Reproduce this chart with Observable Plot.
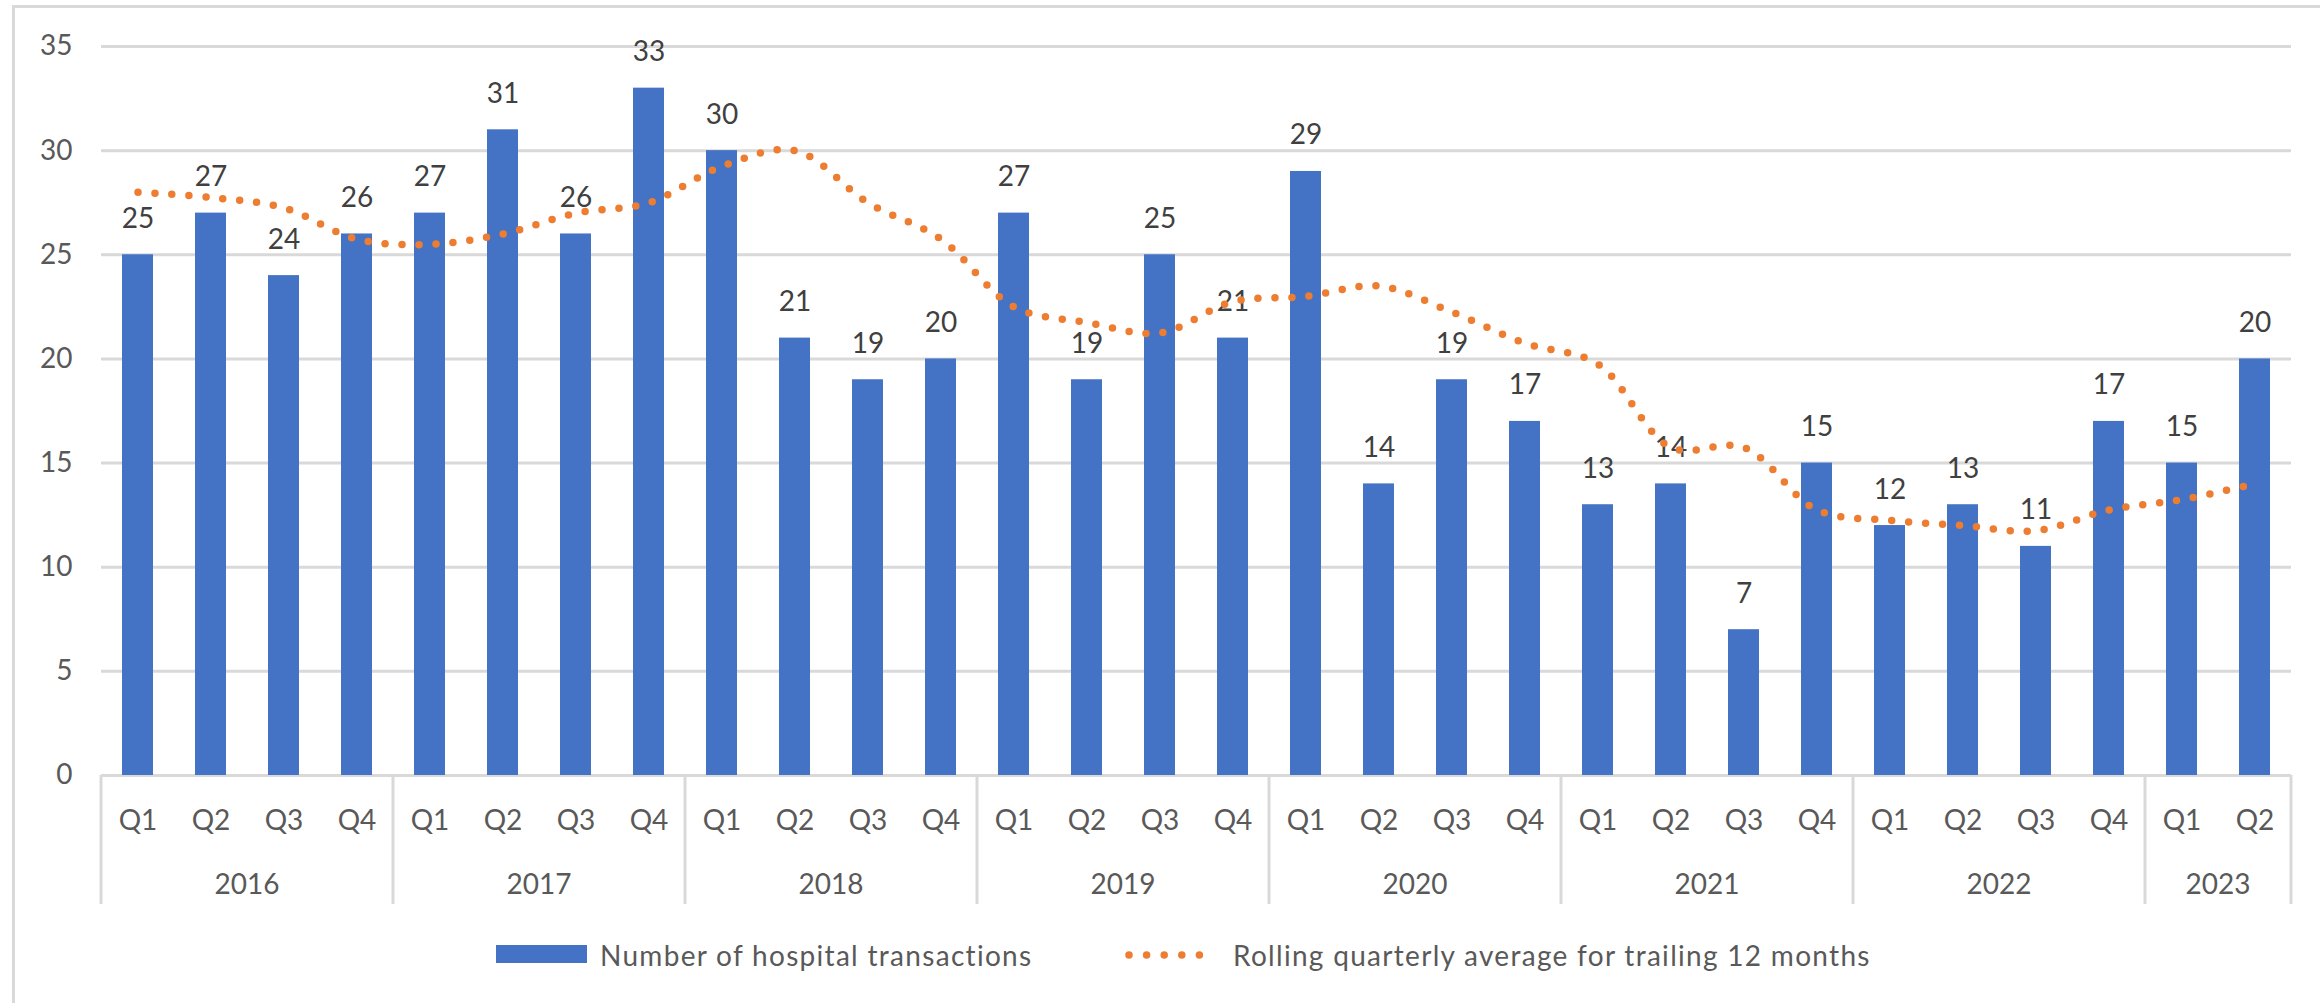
<!DOCTYPE html>
<html>
<head>
<meta charset="utf-8">
<script src="https://cdn.jsdelivr.net/npm/d3@7"></script>
<script src="https://cdn.jsdelivr.net/npm/@observablehq/plot@0.6"></script>
<style>
  html, body { margin: 0; padding: 0; background: #fff; overflow: hidden; }
  body { width: 2320px; height: 1003px; position: relative; font-family: Lato, "Open Sans", sans-serif; }
  #frame { position: absolute; left: 12px; top: 5px; width: 2400px; height: 1100px;
           border-left: 3px solid #d9d9d9; border-top: 3px solid #d9d9d9; box-sizing: border-box; }
  #chart { position: absolute; left: 0; top: 0; }
  .leg { position: absolute; font-size: 28px; color: #595959; line-height: 28px; white-space: nowrap; letter-spacing: 1.3px; }
</style>
</head>
<body>
<div id="frame"></div>
<div id="chart"></div>
<div id="legend"></div>
<script>
// ---- data ----
const years = ["2016", "2017", "2018", "2019", "2020", "2021", "2022", "2023"];
const quartersPerYear = [4, 4, 4, 4, 4, 4, 4, 2];
const quarterLabels = ["Q1", "Q2", "Q3", "Q4"];
const transactions = [25, 27, 24, 26, 27, 31, 26, 33, 30, 21, 19, 20, 27, 19, 25, 21,
                      29, 14, 19, 17, 13, 14, 7, 15, 12, 13, 11, 17, 15, 20];
const rollingAverage = [28, 27.75, 27.25, 25.75, 25.5, 26, 27, 27.5, 29.25, 30, 27.5, 25.75,
                        22.5, 21.75, 21.25, 22.75, 23, 23.5, 22.25, 20.75, 19.75, 15.75, 15.75, 12.75,
                        12.25, 12, 11.75, 12.75, 13.25, 14];
const yTicks = [0, 5, 10, 15, 20, 25, 30, 35];
const seriesNames = ["Number of hospital transactions", "Rolling quarterly average for trailing 12 months"];

// ---- table ----
const keys = [];
years.forEach((yr, i) => {
  for (let q = 0; q < quartersPerYear[i]; q++) keys.push(yr + " " + quarterLabels[q]);
});
const data = keys.map((k, i) => ({key: k, value: transactions[i], avg: rollingAverage[i]}));

const BLUE = "#4472C4", ORANGE = "#ED7D31", GRID = "#D9D9D9", AXIS_TEXT = "#595959", LABEL_TEXT = "#404040";

function yearAxis(index, scales) {
  const sx = scales.x;
  const bw = typeof sx.bandwidth === "function" ? sx.bandwidth() : scales.scales.x.bandwidth;
  const step = typeof sx.step === "function" ? sx.step() : scales.scales.x.step;
  const gap = (step - bw) / 2;
  const base = scales.y(0);
  const g = d3.create("svg:g");
  let k = 0;
  const edges = [];
  years.forEach((yr, i) => {
    const n = quartersPerYear[i];
    const left = sx(keys[k]) - gap;
    const right = sx(keys[k + n - 1]) + bw + gap;
    if (i === 0) edges.push(left);
    edges.push(right);
    g.append("text")
      .attr("x", (left + right) / 2)
      .attr("y", base + 109)
      .attr("dy", "0.35em")
      .attr("text-anchor", "middle")
      .attr("font-size", 28)
      .attr("fill", AXIS_TEXT)
      .text(yr);
    k += n;
  });
  edges.forEach(x => {
    g.append("line")
      .attr("x1", x).attr("x2", x)
      .attr("y1", base).attr("y2", base + 129)
      .attr("stroke", GRID).attr("stroke-width", 3);
  });
  return g.node();
}

const chart = Plot.plot({
  width: 2320,
  height: 920,
  marginTop: 46,
  marginBottom: 145,
  marginLeft: 101,
  marginRight: 29,
  style: {fontFamily: "Lato, 'Open Sans', sans-serif", background: "transparent", overflow: "visible"},
  x: {domain: keys, paddingInner: 0.58, paddingOuter: 0.29, label: null},
  y: {domain: [0, 35], ticks: yTicks, label: null},
  marks: [
    Plot.gridY(yTicks, {stroke: GRID, strokeOpacity: 1, strokeWidth: 3}),
    Plot.barY(data, {x: "key", y: "value", fill: BLUE}),
    Plot.axisY(yTicks, {tickSize: 0, tickPadding: 29, fontSize: 28, fill: AXIS_TEXT, label: null}),
    Plot.axisX({tickSize: 0, tickPadding: 35, fontSize: 28, fill: AXIS_TEXT, label: null,
                tickFormat: d => d.split(" ")[1]}),
    yearAxis,
    Plot.text(data, {x: "key", y: "value", text: d => String(d.value), dy: -36,
                     fontSize: 28, fill: LABEL_TEXT}),
    Plot.line(data, {x: "key", y: "avg", stroke: ORANGE, strokeWidth: 7.5,
                     strokeDasharray: "0 17", strokeLinecap: "round", curve: "catmull-rom"})
  ]
});
document.getElementById("chart").appendChild(chart);

// ---- legend ----
const legend = document.getElementById("legend");
legend.innerHTML = `
  <div style="position:absolute;left:496px;top:945px;width:91px;height:18px;background:${BLUE}"></div>
  <div class="leg" style="left:600px;top:941px">${seriesNames[0]}</div>
  <svg style="position:absolute;left:1120px;top:945px" width="106" height="20">
    <line x1="9" x2="97" y1="10" y2="10" stroke="${ORANGE}" stroke-width="7.5" stroke-dasharray="0 17.6" stroke-linecap="round"/>
  </svg>
  <div class="leg" style="left:1233px;top:941px">${seriesNames[1]}</div>
`;
</script>
</body>
</html>
